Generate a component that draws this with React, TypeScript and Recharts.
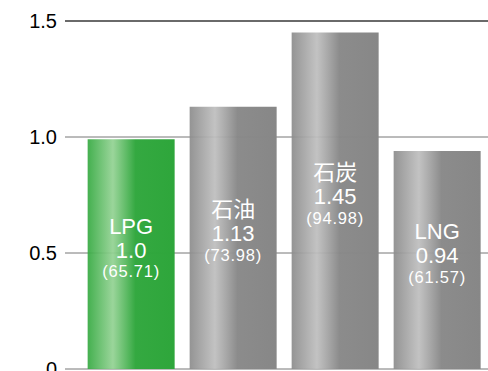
import { Bar, BarChart, CartesianGrid, Cell, LabelList, ReferenceLine, XAxis, YAxis } from "recharts";

const fuels = ["LPG", "石油", "石炭", "LNG"];
const ratios = [0.99, 1.13, 1.45, 0.94];
const ratioLabels = ["1.0", "1.13", "1.45", "0.94"];
const costs = ["(65.71)", "(73.98)", "(94.98)", "(61.57)"];
const yTicks = [0, 0.5, 1.0, 1.5];

const data = fuels.map((name, i) => ({
  name,
  ratio: ratios[i],
  ratioLabel: ratioLabels[i],
  cost: costs[i]
}));

const FONT = '"Liberation Sans", Arial, "Noto Sans CJK JP", sans-serif';

type LabelProps = {
  x?: number;
  y?: number;
  width?: number;
  height?: number;
  index?: number;
};

// three stacked lines, centred in the bar
function BarText({ x = 0, y = 0, width = 0, height = 0, index = 0 }: LabelProps) {
  const row = data[index];
  const cx = x + width / 2;
  const mid = y + height / 2 - 4;

  return (
    <g fill="#ffffff" textAnchor="middle" fontFamily={FONT}>
      <text x={cx} y={mid - 24} dominantBaseline="central" fontSize={22}>
        {row.name}
      </text>
      <text x={cx} y={mid} dominantBaseline="central" fontSize={22}>
        {row.ratioLabel}
      </text>
      <text x={cx} y={mid + 21} dominantBaseline="central" fontSize={16.5} letterSpacing={0.8}>
        {row.cost}
      </text>
    </g>
  );
}

export default function App() {
  return (
    <div style={{ position: "absolute", left: 0, top: 0, width: 488, height: 371, background: "#ffffff" }}>
      <BarChart
        width={488}
        height={371}
        data={data}
        margin={{ top: 21, right: 0, bottom: 2, left: 0 }}
        barCategoryGap="7.5%"
        style={{ overflow: "visible" }}
      >
        <defs>
          <linearGradient id="greenBar" x1="0" y1="0" x2="1" y2="0">
            <stop offset="0%" stopColor="#36aa42" stopOpacity={0.93} />
            <stop offset="29%" stopColor="#93d293" stopOpacity={0.93} />
            <stop offset="55%" stopColor="#2ea63b" stopOpacity={0.97} />
            <stop offset="100%" stopColor="#2ea63b" />
          </linearGradient>
          <linearGradient id="grayBar" x1="0" y1="0" x2="1" y2="0">
            <stop offset="0%" stopColor="#8c8c8c" stopOpacity={0.93} />
            <stop offset="29%" stopColor="#bebebe" stopOpacity={0.93} />
            <stop offset="55%" stopColor="#888888" stopOpacity={0.97} />
            <stop offset="100%" stopColor="#878787" />
          </linearGradient>
        </defs>
        <CartesianGrid stroke="#777777" vertical={false} />
        <XAxis dataKey="name" hide padding={{ left: 15, right: 0 }} />
        <YAxis
          width={65}
          domain={[0, 1.5]}
          ticks={yTicks}
          interval={0}
          axisLine={false}
          tickLine={false}
          tickFormatter={(v: number) => (v === 0 ? "0" : v.toFixed(1))}
          tick={{ fill: "#000000", fontSize: 20, fontFamily: FONT }}
        />
        <ReferenceLine y={1.5} stroke="#1a1a1a" strokeWidth={1.2} />
        <Bar dataKey="ratio" isAnimationActive={false}>
          {data.map((row, i) => (
            <Cell key={row.name} fill={i === 0 ? "url(#greenBar)" : "url(#grayBar)"} />
          ))}
          <LabelList dataKey="ratio" content={<BarText />} />
        </Bar>
      </BarChart>
    </div>
  );
}
